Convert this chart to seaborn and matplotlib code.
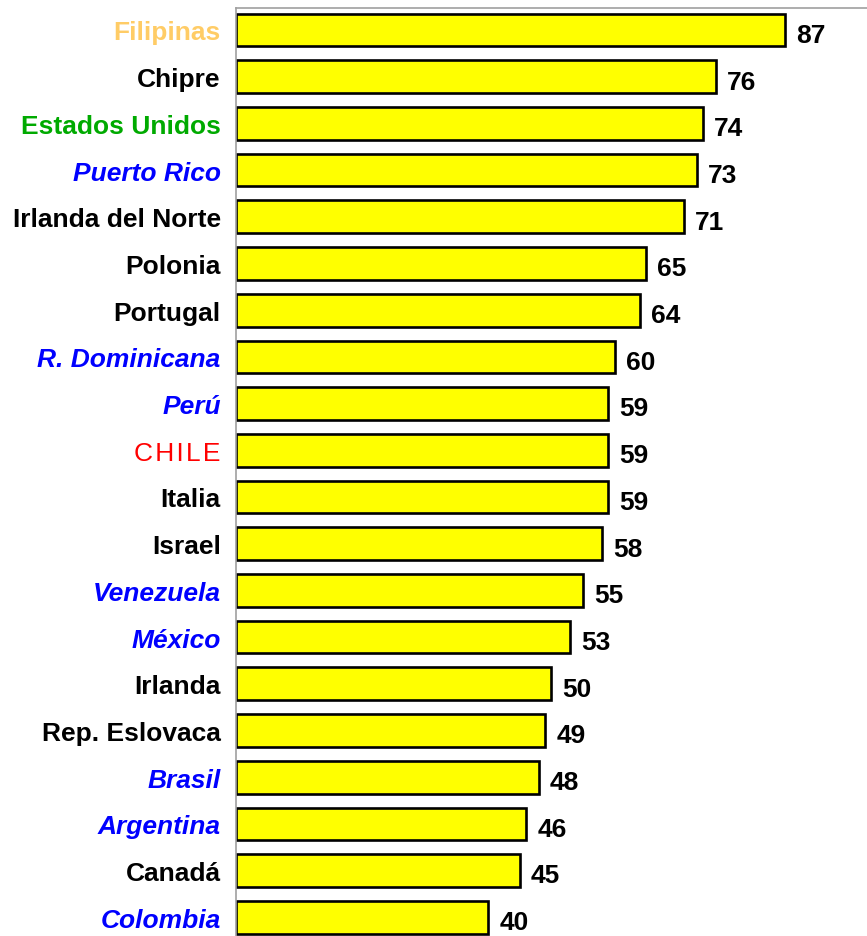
import matplotlib
matplotlib.use('Agg')
import matplotlib.pyplot as plt
import seaborn as sns
import pandas as pd

# datos
paises = ['Filipinas', 'Chipre', 'Estados Unidos', 'Puerto Rico', 'Irlanda del Norte',
          'Polonia', 'Portugal', 'R. Dominicana', 'Perú', 'CHILE', 'Italia', 'Israel',
          'Venezuela', 'México', 'Irlanda', 'Rep. Eslovaca', 'Brasil', 'Argentina',
          'Canadá', 'Colombia']
valores = [87, 76, 74, 73, 71, 65, 64, 60, 59, 59, 59, 58, 55, 53, 50, 49, 48, 46, 45, 40]
latinos = ['Puerto Rico', 'R. Dominicana', 'Perú', 'Venezuela', 'México', 'Brasil',
           'Argentina', 'Colombia']

sns.set_style('white')
plt.rcParams['font.family'] = ['Liberation Sans', 'DejaVu Sans']

df = pd.DataFrame({'pais': paises, 'valor': valores})

fig = plt.figure(figsize=(8.67, 9.37), dpi=100)
ax = fig.add_axes([0.2722, 0.0, 0.7278, 0.9904])

sns.barplot(data=df, x='valor', y='pais', orient='h', color='#FFFF00', saturation=1,
            edgecolor='black', linewidth=1.9, width=0.7, ax=ax)

ax.set_xlim(0, 100)
ax.set_ylim(19.4, -0.47)
ax.set_xlabel('')
ax.set_ylabel('')
ax.set_xticks([])

for sp in ['right', 'bottom']:
    ax.spines[sp].set_visible(False)
for sp in ['left', 'top']:
    ax.spines[sp].set_color('#A0A0A0')
    ax.spines[sp].set_linewidth(1.2)

# etiquetas de paises con colores
ax.tick_params(axis='y', length=0, pad=11)
ax.set_yticks(range(len(paises)))
textos = ['C\u200aH\u200aI\u200aL\u200aE' if p == 'CHILE' else p for p in paises]
ax.set_yticklabels(textos)
for lbl, t in zip(ax.get_yticklabels(), paises):
    lbl.set_fontsize(19)
    if t == 'Filipinas':
        lbl.set_color('#FFCC66'); lbl.set_fontweight('bold')
    elif t == 'Estados Unidos':
        lbl.set_color('#00AA00'); lbl.set_fontweight('bold')
    elif t == 'CHILE':
        lbl.set_color('#FF0000'); lbl.set_fontweight('normal')
    elif t in latinos:
        lbl.set_color('#0000FF'); lbl.set_fontweight('bold'); lbl.set_fontstyle('italic')
    else:
        lbl.set_color('black'); lbl.set_fontweight('bold')

for i, v in enumerate(valores):
    ax.annotate(f'{v}', xy=(v, i), xytext=(8, -3.5), textcoords='offset points',
                ha='left', va='center', fontsize=19, fontweight='bold', color='black')

fig.savefig('out.png', dpi=100)
